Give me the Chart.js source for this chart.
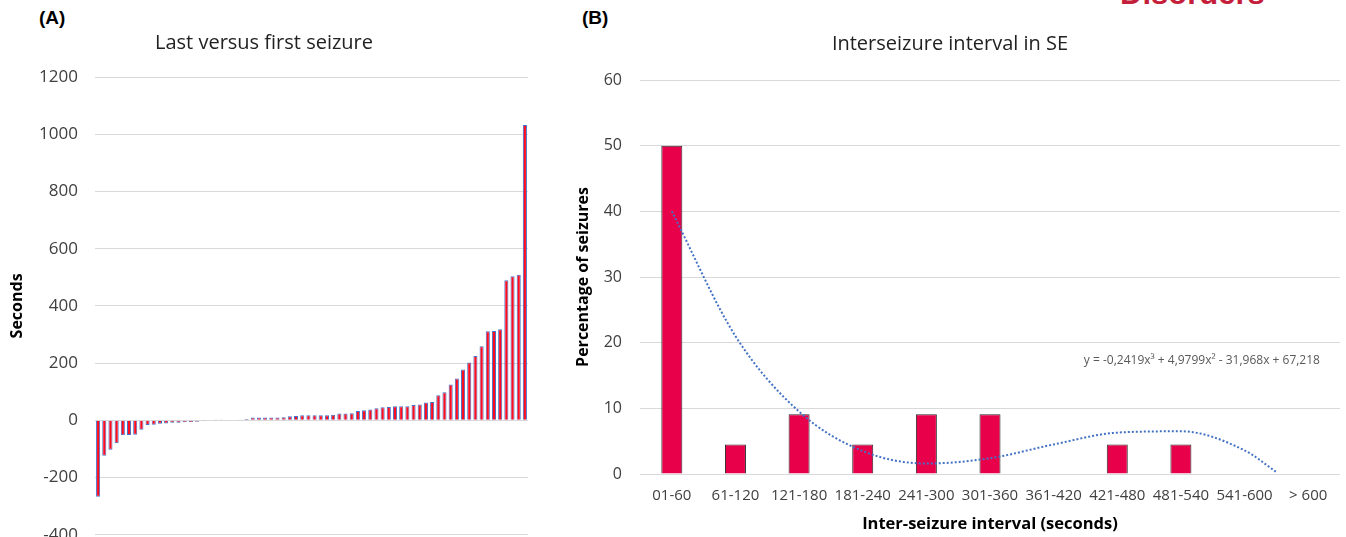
<!DOCTYPE html>
<html lang="en">
<head>
  <meta charset="UTF-8">
  <title>Seizure charts</title>
  <script src="https://cdn.jsdelivr.net/npm/chart.js@4.4.1/dist/chart.umd.min.js"></script>
  <style>
    html, body { margin: 0; padding: 0; background: #fff; overflow: hidden; }
    body { width: 1346px; height: 537px; position: relative; font-family: "Open Sans", sans-serif; }
    .panel { position: absolute; font-family: "Liberation Sans", Arial, sans-serif; font-weight: bold; font-size: 19px; color: #000; }
    .logo { position: absolute; left: 1120px; top: -24px; font-family: "Liberation Sans", Arial, sans-serif; font-weight: bold; font-size: 31px; color: #c41e3a; }
    .box { position: absolute; top: 0; }
  </style>
</head>

<script>
  // (A) last minus first seizure, one bar per patient, sorted
  const lastVsFirst = [
    -267, -124, -103, -80, -52, -51, -50, -33, -16, -15,
    -12, -11, -8, -8, -7, -6, -5, -2, -1, 1,
    1, 2, 2, 3, 5, 10, 10, 10, 10, 10,
    11, 14, 15, 18, 18, 18, 18, 18, 20, 24,
    24, 25, 33, 35, 38, 42, 46, 47, 49, 49,
    49, 54, 55, 62, 64, 88, 98, 125, 146, 178,
    202, 225, 259, 311, 312, 318, 490, 504, 509, 1032
  ];
  const patientLabels = lastVsFirst.map((v, i) => String(i + 1));

  // (B) interseizure interval
  const intervalLabels = ["01-60", "61-120", "121-180", "181-240", "241-300", "301-360",
    "361-420", "421-480", "481-540", "541-600", "> 600"];
  const intervalPercent = [50, 4.5, 9.1, 4.5, 9.1, 9.1, 0, 4.5, 4.5, 0, 0];
  // dotted polynomial trendline (x = category index)
  const trendX = [0, 1, 2, 3, 4, 5, 6, 7, 8, 9, 9.5];
  const trendY = [40, 21, 9.5, 3.5, 1.6, 2.4, 4.5, 6.3, 6.5, 3.6, 0.3];
  const trendText = "y = -0,2419x\u00B3 + 4,9799x\u00B2 - 31,968x + 67,218";

  const grey = "#d9d9d9";
  const font = "'Open Sans', sans-serif";
  const plain = (v) => String(v); // no thousands separator

  window.onload = () => {
    new Chart(document.getElementById("chartA"), {
      type: "bar",
      data: {
        labels: patientLabels,
        datasets: [{
          data: lastVsFirst,
          backgroundColor: "#ff0d1f",
          borderColor: "#4a72c8",
          borderWidth: 1,
          barPercentage: 0.66,
          categoryPercentage: 1
        }]
      },
      options: {
        responsive: false,
        animation: false,
        events: [],
        layout: { padding: { right: 12 } },
        plugins: {
          legend: { display: false },
          tooltip: { enabled: false },
          title: {
            display: true,
            text: "Last versus first seizure",
            color: "#222",
            font: { family: font, size: 20, weight: "normal" },
            padding: { top: 31, bottom: 22 }
          }
        },
        scales: {
          x: { display: false },
          y: {
            min: -400, max: 1200,
            afterFit: (s) => { s.width = 95; },
            ticks: { stepSize: 200, padding: 17, color: "#404040", font: { family: font, size: 17 }, callback: plain },
            grid: { color: grey, drawTicks: false },
            border: { display: false },
            title: {
              display: true, text: "Seconds", color: "#000",
              font: { family: font, size: 16, weight: "bold" },
              padding: { top: 8, bottom: 0 }
            }
          }
        }
      }
    });

    // draws the trendline equation next to the curve
    const equationLabel = {
      id: "equationLabel",
      afterDatasetsDraw(chart) {
        const ctx = chart.ctx;
        const xs = chart.scales.x, ys = chart.scales.y;
        ctx.save();
        ctx.font = "12px " + font;
        ctx.fillStyle = "#595959";
        ctx.textAlign = "center";
        ctx.textBaseline = "middle";
        ctx.fillText(trendText, xs.getPixelForValue(8) + 21, ys.getPixelForValue(17.2));
        ctx.restore();
      }
    };

    new Chart(document.getElementById("chartB"), {
      type: "bar",
      data: {
        labels: intervalLabels,
        datasets: [{
          data: intervalPercent,
          backgroundColor: "#e8004b",
          borderColor: "#2a2a2a",
          borderWidth: 1,
          grouped: false,
          order: 1,
          barPercentage: 0.33,
          categoryPercentage: 1
        }, {
          type: "line",
          data: trendX.map((x, i) => ({ x: x, y: trendY[i] })),
          xAxisID: "xt",
          order: 0,
          borderColor: "#4472c4",
          borderWidth: 2,
          borderDash: [2, 2],
          pointRadius: 0,
          fill: false,
          cubicInterpolationMode: "monotone"
        }]
      },
      options: {
        responsive: false,
        animation: false,
        events: [],
        layout: { padding: { right: 6 } },
        plugins: {
          legend: { display: false },
          tooltip: { enabled: false },
          title: {
            display: true,
            text: "Interseizure interval in SE",
            color: "#222",
            font: { family: font, size: 20, weight: "normal" },
            padding: { top: 32, bottom: 24 }
          }
        },
        scales: {
          x: {
            afterFit: (s) => { s.height = 63; },
            grid: { display: false },
            border: { display: false },
            ticks: { padding: 5, color: "#404040", font: { family: font, size: 15 }, maxRotation: 0, autoSkip: false },
            title: {
              display: true, text: "Inter-seizure interval (seconds)", color: "#000",
              font: { family: font, size: 16.5, weight: "bold" },
              padding: { top: 0, bottom: 3 }
            }
          },
          xt: { type: "linear", display: false, offset: false, min: -0.5, max: 10.5, grid: { offset: false } },
          y: {
            min: 0, max: 60,
            afterFit: (s) => { s.width = 80; },
            ticks: { stepSize: 10, padding: 18, color: "#404040", font: { family: font, size: 16 } },
            grid: { color: grey, drawTicks: false },
            border: { display: false },
            title: {
              display: true, text: "Percentage of seizures", color: "#000",
              font: { family: font, size: 16, weight: "bold" },
              padding: { top: 14, bottom: 0 }
            }
          }
        }
      },
      plugins: [equationLabel]
    });
  };
</script>

<body>
  <div class="logo">Disorders</div>
  <div class="panel" style="left:39px; top:7px;">(A)</div>
  <div class="panel" style="left:582px; top:7px;">(B)</div>
  <div class="box" style="left:0;"><canvas id="chartA" width="540" height="562"></canvas></div>
  <div class="box" style="left:560px;"><canvas id="chartB" width="786" height="537"></canvas></div>
</body>

</html>
